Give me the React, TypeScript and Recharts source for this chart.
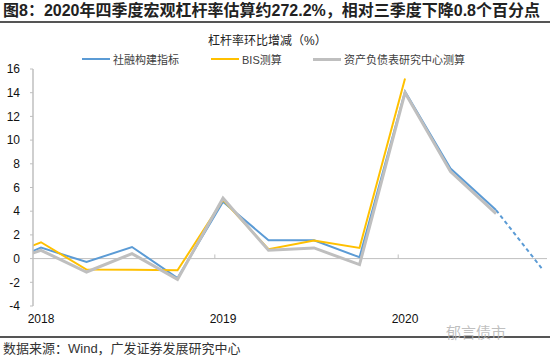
import { LineChart, Line, XAxis, YAxis, ReferenceLine } from 'recharts'

// quarter index: 0 = 2018Q1 ... 11 = 2020Q4 (-1 = 2017Q4, clipped by the axis)
const QUARTERS = [-1, 0, 1, 2, 3, 4, 5, 6, 7, 8, 9, 10, 11]
const SOCIAL_FIN = [-0.7, 0.93, -0.29, 0.98, -1.64, 4.8, 1.55, 1.55, 0.11, 14.1, 7.6, 4.1, null]
const SOCIAL_FIN_EST = [null, null, null, null, null, null, null, null, null, null, null, 4.1, -0.8]
const BIS = [-0.2, 1.38, -0.93, -0.95, -0.99, 4.95, 0.79, 1.52, 0.9, 15.2, null, null, null]
const CNBS = [-0.6, 0.7, -1.13, 0.42, -1.75, 5.1, 0.7, 0.9, -0.51, 14.0, 7.34, 3.8, null]

const YEAR_TICKS = [0, 4, 8]
const YEAR_LABELS = ['2018', '2019', '2020']
const YEAR_BOUNDS = [3.82, 7.85]
const Y_TICKS = [-4, -2, 0, 2, 4, 6, 8, 10, 12, 14, 16]

const LEGEND = [
  { name: '社融构建指标', color: '#5B9BD5', width: 2, left: 82 },
  { name: 'BIS测算', color: '#FFC000', width: 2, left: 211 },
  { name: '资产负债表研究中心测算', color: '#BFBFBF', width: 3, left: 313 },
]

const rows = QUARTERS.map((t, i) => ({
  t,
  social: SOCIAL_FIN[i],
  socialEst: SOCIAL_FIN_EST[i],
  bis: BIS[i],
  cnbs: CNBS[i],
}))

const SANS = "'Liberation Sans', Arial, 'Noto Sans CJK SC', sans-serif"

function ChartLegend() {
  return (
    <>
      {LEGEND.map((item) => (
        <div
          key={item.name}
          style={{
            position: 'absolute', left: item.left, top: 50, height: 18, display: 'flex',
            alignItems: 'center', fontFamily: SANS, fontSize: 11, color: '#404040', whiteSpace: 'nowrap',
          }}
        >
          <span
            style={{ display: 'inline-block', width: 28, height: item.width, background: item.color, marginRight: 3 }}
          />
          <span>{item.name}</span>
        </div>
      ))}
    </>
  )
}

export default function App() {
  return (
    <div style={{ position: 'absolute', left: 0, top: 0, width: 550, height: 358, background: '#fff', overflow: 'hidden' }}>
      <div
        style={{
          position: 'absolute', left: 3, top: 1, fontFamily: SANS, fontWeight: 'bold',
          fontSize: 16, color: '#222', whiteSpace: 'nowrap', lineHeight: '20px',
        }}
      >
        图8：2020年四季度宏观杠杆率估算约272.2%，相对三季度下降0.8个百分点
      </div>
      <div style={{ position: 'absolute', left: 0, top: 21, width: 550, height: 2, background: '#555' }} />
      <div
        style={{
          position: 'absolute', left: 208, top: 33, fontFamily: SANS, fontSize: 12,
          color: '#222', whiteSpace: 'nowrap', lineHeight: '16px',
        }}
      >
        杠杆率环比增减（%）
      </div>
      <LineChart
        width={550}
        height={358}
        data={rows}
        margin={{ top: 69, right: 3, bottom: 22, left: 0 }}
        style={{ position: 'absolute', left: 0, top: 0 }}
      >
        <XAxis
          type="number"
          dataKey="t"
          domain={[-0.176, 11.12]}
          allowDataOverflow
          ticks={YEAR_TICKS}
          tickFormatter={(v: number) => YEAR_LABELS[YEAR_TICKS.indexOf(v)]}
          axisLine={false}
          tickLine={false}
          height={30}
          tick={{ fill: '#111', fontSize: 12, fontFamily: SANS }}
        />
        <YAxis
          type="number"
          domain={[-4, 16]}
          ticks={Y_TICKS}
          interval={0}
          width={33}
          axisLine={{ stroke: '#BFBFBF', strokeWidth: 1.5 }}
          tickLine={{ stroke: '#BFBFBF' }}
          tickSize={3}
          tickMargin={10}
          tick={{ fill: '#111', fontSize: 12, fontFamily: SANS }}
        />
        <ReferenceLine y={0} stroke="#BFBFBF" strokeWidth={1} />
        {YEAR_BOUNDS.map((x) => (
          <ReferenceLine
            key={x}
            segment={[{ x, y: 0 }, { x, y: 0.35 }]}
            stroke="#BFBFBF"
            strokeWidth={1}
          />
        ))}
        <Line dataKey="social" stroke="#5B9BD5" strokeWidth={2} dot={false} isAnimationActive={false} />
        <Line
          dataKey="socialEst"
          stroke="#5B9BD5"
          strokeWidth={2}
          strokeDasharray="4 3"
          dot={false}
          isAnimationActive={false}
        />
        <Line dataKey="bis" stroke="#FFC000" strokeWidth={2} dot={false} isAnimationActive={false} />
        <Line dataKey="cnbs" stroke="#BFBFBF" strokeWidth={3} dot={false} isAnimationActive={false} />
      </LineChart>
      <ChartLegend />
      <div style={{ position: 'absolute', left: 0, top: 336, width: 550, height: 2, background: '#555' }} />
      <div
        style={{
          position: 'absolute', left: 3, top: 340, fontFamily: SANS, fontSize: 13,
          color: '#333', whiteSpace: 'nowrap', lineHeight: '17px',
        }}
      >
        数据来源：Wind，广发证券发展研究中心
      </div>
      <div
        style={{
          position: 'absolute', left: 446, top: 323, fontFamily: SANS, fontSize: 15,
          color: 'rgba(180,180,180,0.85)', whiteSpace: 'nowrap', lineHeight: '20px',
        }}
      >
        郁言债市
      </div>
    </div>
  )
}
